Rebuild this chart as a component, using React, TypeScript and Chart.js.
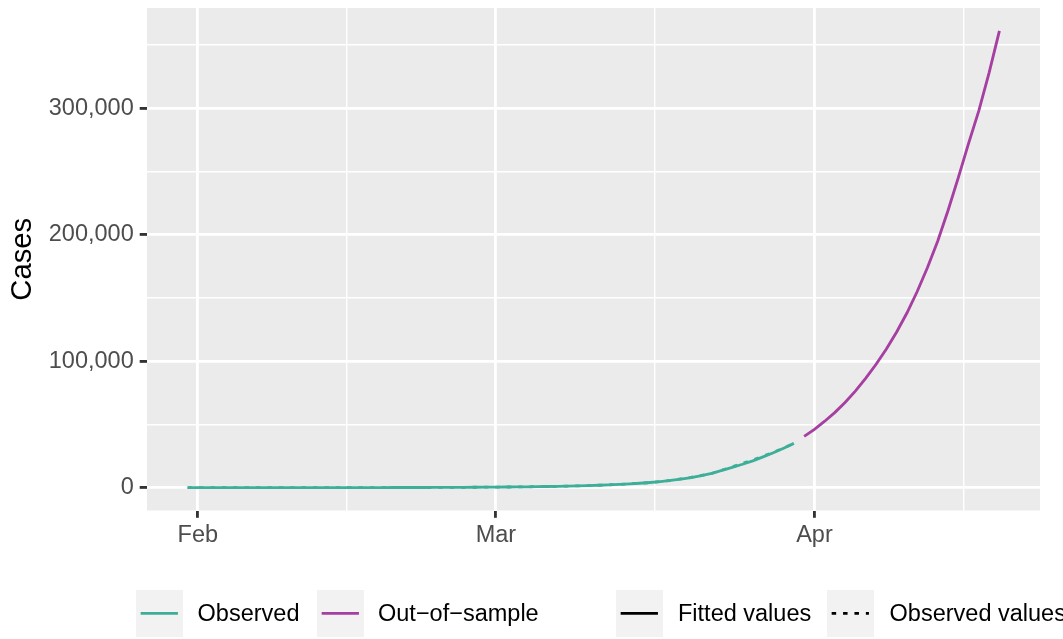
import React, { useEffect, useRef } from "react";
import { Chart, registerables } from "chart.js";

Chart.register(...registerables);

// ---------------- data ----------------
const inSampleDates = [
  "2020-01-31",
  "2020-02-01", "2020-02-02", "2020-02-03", "2020-02-04", "2020-02-05", "2020-02-06", "2020-02-07",
  "2020-02-08", "2020-02-09", "2020-02-10", "2020-02-11", "2020-02-12", "2020-02-13", "2020-02-14",
  "2020-02-15", "2020-02-16", "2020-02-17", "2020-02-18", "2020-02-19", "2020-02-20", "2020-02-21",
  "2020-02-22", "2020-02-23", "2020-02-24", "2020-02-25", "2020-02-26", "2020-02-27", "2020-02-28",
  "2020-02-29",
  "2020-03-01", "2020-03-02", "2020-03-03", "2020-03-04", "2020-03-05", "2020-03-06", "2020-03-07",
  "2020-03-08", "2020-03-09", "2020-03-10", "2020-03-11", "2020-03-12", "2020-03-13", "2020-03-14",
  "2020-03-15", "2020-03-16", "2020-03-17", "2020-03-18", "2020-03-19", "2020-03-20", "2020-03-21",
  "2020-03-22", "2020-03-23", "2020-03-24", "2020-03-25", "2020-03-26", "2020-03-27", "2020-03-28",
  "2020-03-29", "2020-03-30",
];

const fittedValues = [
  5, 6, 7, 8, 9, 10, 12, 14, 16, 19,
  22, 26, 30, 35, 40, 47, 54, 63, 73, 85,
  98, 114, 132, 153, 178, 207, 240, 278, 322, 374,
  433, 503, 583, 677, 785, 910, 1055, 1225, 1420, 1650,
  1900, 2200, 2550, 2950, 3450, 4050, 4800, 5700, 6800, 8000,
  9500, 11300, 13600, 16000, 18500, 21200, 24300, 27600, 31200, 35000,
];

const observedValues = [
  2, 2, 3, 3, 3, 4, 5, 5, 8, 11,
  14, 17, 20, 25, 31, 38, 45, 55, 65, 79,
  95, 112, 130, 150, 178, 210, 245, 283, 330, 380,
  440, 505, 590, 680, 790, 905, 1050, 1240, 1420, 1660,
  1890, 2250, 2520, 3000, 3500, 4000, 4900, 5650, 6900, 8100,
  9600, 11200, 13800, 16500, 19200, 21800, 24900, 28000, 31400, 34800,
];

const outOfSampleDates = [
  "2020-03-31",
  "2020-04-01", "2020-04-02", "2020-04-03", "2020-04-04", "2020-04-05", "2020-04-06", "2020-04-07",
  "2020-04-08", "2020-04-09", "2020-04-10", "2020-04-11", "2020-04-12", "2020-04-13", "2020-04-14",
  "2020-04-15", "2020-04-16", "2020-04-17", "2020-04-18", "2020-04-19",
];

const outOfSampleValues = [
  40500, 46000, 52500, 59500, 67500, 76500, 86500, 97500, 109500, 123000,
  138000, 155000, 174000, 195000, 219000, 245000, 272000, 298000, 328000, 361000,
];

const xTickDates = ["2020-02-01", "2020-03-01", "2020-04-01"];
const xTickLabels = ["Feb", "Mar", "Apr"];

const yMajorTicks = [0, 100000, 200000, 300000];
const yMinorTicks = [50000, 150000, 250000, 350000];

const colorLegendLabels = ["Observed", "Out\u2212of\u2212sample"];
const linetypeLegendLabels = ["Fitted values", "Observed values"];

// ---------------- styling ----------------
const FONT = '"Liberation Sans", Arial, Helvetica, sans-serif';
const TEAL = "#3DAE98";
const PURPLE = "#A53FA1";
const LINE_W = 2.85;
const DASH = [4.5, 6.9];

const ORIGIN = Date.UTC(2020, 1, 1);
const toDay = (s: string) => {
  const [y, m, d] = s.split("-").map(Number);
  return (Date.UTC(y, m - 1, d) - ORIGIN) / 86400000;
};

const xMajor = xTickDates.map(toDay);
const majorStep = xMajor[1] - xMajor[0];
const xExt = [...xMajor, xMajor[xMajor.length - 1] + majorStep];
const xMinor = xExt.slice(0, -1).map((v, i) => (v + xExt[i + 1]) / 2);

const allDays = [...inSampleDates, ...outOfSampleDates].map(toDay);
const xLo = Math.min(...allDays);
const xHi = Math.max(...allDays);
const allVals = [...fittedValues, ...observedValues, ...outOfSampleValues];
const yLo = Math.min(0, ...allVals);
const yHi = Math.max(...allVals);

const fmt = (v: number) => v.toLocaleString("en-US");

const panelBg = {
  id: "panelBg",
  beforeDraw(chart: any) {
    const { ctx, chartArea } = chart;
    ctx.save();
    ctx.fillStyle = "#EBEBEB";
    ctx.fillRect(chartArea.left, chartArea.top, chartArea.width, chartArea.height);
    ctx.restore();
  },
};

function LegendKey({ left, color, dash }: { left: number; color: string; dash?: string }) {
  return (
    <div style={{ position: "absolute", left, top: 590, width: 46.6, height: 46.7, background: "#F2F2F2" }}>
      <svg width="46.6" height="46.7" style={{ display: "block" }}>
        <line x1={4.66} x2={41.94} y1={23.35} y2={23.35} stroke={color} strokeWidth={LINE_W}
          strokeDasharray={dash} />
      </svg>
    </div>
  );
}

function LegendLabel({ left, text }: { left: number; text: string }) {
  return (
    <div style={{
      position: "absolute", left, top: 590, height: 46.7, lineHeight: "46.7px",
      fontFamily: FONT, fontSize: 23.5, color: "#000", whiteSpace: "nowrap",
    }}>{text}</div>
  );
}

export default function App() {
  const ref = useRef<HTMLCanvasElement | null>(null);

  useEffect(() => {
    if (!ref.current) return;
    const isMinorX = (v: number) => xMinor.some((m) => Math.abs(m - v) < 1e-6);
    const isMinorY = (v: number) => yMinorTicks.includes(v);

    const chart = new Chart(ref.current, {
      type: "line",
      data: {
        datasets: [
          {
            label: "Observed fitted",
            data: inSampleDates.map((d, i) => ({ x: toDay(d), y: fittedValues[i] })),
            borderColor: TEAL,
            borderWidth: LINE_W,
            pointRadius: 0,
            tension: 0,
            borderCapStyle: "butt",
          },
          {
            label: "Observed values",
            data: inSampleDates.map((d, i) => ({ x: toDay(d), y: observedValues[i] })),
            borderColor: TEAL,
            borderWidth: LINE_W,
            borderDash: DASH,
            pointRadius: 0,
            tension: 0,
            borderCapStyle: "butt",
          },
          {
            label: "Out-of-sample",
            data: outOfSampleDates.map((d, i) => ({ x: toDay(d), y: outOfSampleValues[i] })),
            borderColor: PURPLE,
            borderWidth: LINE_W,
            pointRadius: 0,
            tension: 0,
            borderCapStyle: "butt",
          },
        ],
      },
      options: {
        responsive: false,
        animation: false,
        devicePixelRatio: 1,
        layout: { padding: { left: 0, top: 8, right: 23, bottom: 0 } },
        plugins: { legend: { display: false }, tooltip: { enabled: false } },
        scales: {
          x: {
            type: "linear",
            min: xLo - 0.05 * (xHi - xLo),
            max: xHi + 0.05 * (xHi - xLo),
            afterBuildTicks: (scale: any) => {
              scale.ticks = [...xMajor, ...xMinor].sort((a, b) => a - b).map((v) => ({ value: v }));
            },
            afterFit: (scale: any) => {
              scale.height = 128.5;
              scale.paddingLeft = 0;
              scale.paddingRight = 0;
              scale.paddingTop = 0;
              scale.paddingBottom = 0;
            },
            border: { display: false },
            grid: {
              color: "#FFFFFF",
              lineWidth: (c: any) => (c.tick && isMinorX(c.tick.value) ? 1.42 : 2.85),
              tickColor: (c: any) => (c.tick && isMinorX(c.tick.value) ? "rgba(0,0,0,0)" : "#333333"),
              tickWidth: 2.85,
              tickLength: 7.3,
            },
            ticks: {
              autoSkip: false,
              maxRotation: 0,
              minRotation: 0,
              padding: 4,
              color: "#4D4D4D",
              font: { family: FONT, size: 23.5 },
              callback: (v: any) => {
                const i = xMajor.findIndex((m) => Math.abs(m - Number(v)) < 1e-6);
                return i >= 0 ? xTickLabels[i] : "";
              },
            },
          },
          y: {
            type: "linear",
            min: yLo - 0.05 * (yHi - yLo),
            max: yHi + 0.05 * (yHi - yLo),
            afterBuildTicks: (scale: any) => {
              scale.ticks = [...yMajorTicks, ...yMinorTicks].sort((a, b) => a - b).map((v) => ({ value: v }));
            },
            afterFit: (scale: any) => {
              scale.width = 147;
              scale.paddingLeft = 0;
              scale.paddingRight = 0;
              scale.paddingTop = 0;
              scale.paddingBottom = 0;
            },
            border: { display: false },
            grid: {
              color: "#FFFFFF",
              lineWidth: (c: any) => (c.tick && isMinorY(c.tick.value) ? 1.42 : 2.85),
              tickColor: (c: any) => (c.tick && isMinorY(c.tick.value) ? "rgba(0,0,0,0)" : "#333333"),
              tickWidth: 2.85,
              tickLength: 7.3,
            },
            ticks: {
              autoSkip: false,
              padding: 6,
              color: "#4D4D4D",
              font: { family: FONT, size: 23.5 },
              callback: (v: any) => (yMajorTicks.includes(Number(v)) ? fmt(Number(v)) : ""),
            },
            title: {
              display: true,
              text: "Cases",
              color: "#000000",
              font: { family: FONT, size: 29.3, lineHeight: 1 },
              padding: { top: 8.5, bottom: 0 },
            },
          },
        },
      },
      plugins: [panelBg],
    } as any);

    return () => chart.destroy();
  }, []);

  return (
    <div style={{ position: "absolute", left: 0, top: 0, width: 1063, height: 639, overflow: "hidden", background: "#FFFFFF" }}>
      <canvas ref={ref} width={1063} height={639} style={{ position: "absolute", left: 0, top: 0, width: 1063, height: 639 }} />
      <LegendKey left={136} color={TEAL} />
      <LegendLabel left={197.6} text={colorLegendLabels[0]} />
      <LegendKey left={317} color={PURPLE} />
      <LegendLabel left={378} text={colorLegendLabels[1]} />
      <LegendKey left={616} color="#000000" />
      <LegendLabel left={678} text={linetypeLegendLabels[0]} />
      <LegendKey left={827} color="#000000" dash={DASH.join(" ")} />
      <LegendLabel left={889.6} text={linetypeLegendLabels[1]} />
    </div>
  );
}
